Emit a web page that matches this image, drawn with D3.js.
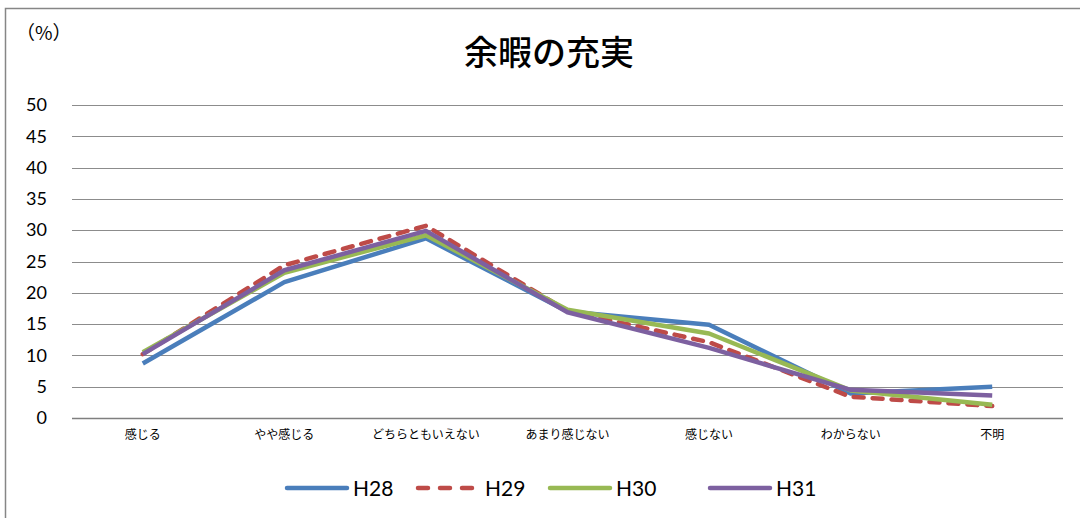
<!DOCTYPE html>
<html lang="ja">
<head>
    <title>余暇の充実</title>
    <meta charset="utf-8"/>
    <script src="https://d3js.org/d3.v7.min.js"></script>
    <style>
        body { margin: 0; background: #fff; }
        .tick line { display: none; }
        .domain { display: none; }
    </style>
</head>
<body>
<div id="viz">
    <svg width="1080" height="518"></svg>
</div>

<script type="text/javascript">

    // categorias del eje x
    const categorias = ["感じる", "やや感じる", "どちらともいえない", "あまり感じない", "感じない", "わからない", "不明"];
    const ticksY = [0, 5, 10, 15, 20, 25, 30, 35, 40, 45, 50];

    // series (%)
    const h28 = [8.7, 21.7, 28.7, 17.0, 14.9, 3.9, 5.0];
    const h29 = [10.2, 24.4, 30.7, 17.1, 12.1, 3.4, 1.9];
    const h30 = [10.5, 23.2, 29.2, 17.3, 13.5, 4.4, 2.1];
    const h31 = [10.2, 23.6, 29.9, 16.9, 11.2, 4.5, 3.6];
    const nombres = ["H28", "H29", "H30", "H31"];

    const colores = ["#4a7ebb", "#be4b48", "#98b954", "#7d60a0"];
    const series = [h28, h29, h30, h31].map((v, i) => ({nombre: nombres[i], valores: v, color: colores[i], dash: i === 1}));

    const fuenteNum = "Lato, 'Liberation Sans', sans-serif";
    const fuenteJp = "'Noto Sans CJK JP', sans-serif";

    const svg = d3.select("svg");

    // marco del grafico
    svg.append("rect")
        .attr("x", 5.5).attr("y", 8.5)
        .attr("width", 1100).attr("height", 540)
        .attr("fill", "none")
        .attr("stroke", "#868686")
        .attr("stroke-width", 1.5);

    // escalas
    let x = d3.scaleBand().domain(categorias).range([72, 1063]);
    let y = d3.scaleLinear().domain([0, 50]).range([418, 105]);

    // lineas de grilla
    svg.append("g")
        .selectAll("line")
        .data(ticksY).enter()
        .append("line")
        .attr("x1", 72).attr("x2", 1063)
        .attr("y1", d => Math.round(y(d)) + 0.5)
        .attr("y2", d => Math.round(y(d)) + 0.5)
        .attr("stroke", d => d === 0 ? "#7f7f7f" : "#8c8c8c")
        .attr("stroke-width", d => d === 0 ? 1.5 : 1.2);

    // eje y
    let ejeY = d3.axisLeft(y).tickValues(ticksY).tickSize(0).tickPadding(0);
    svg.append("g")
        .attr("transform", "translate(47,0)")
        .style("font-size", "18px")
        .style("font-family", fuenteNum)
        .call(ejeY)
        .selectAll("text").attr("fill", "#000");

    // eje x
    let ejeX = d3.axisBottom(x).tickSize(0).tickPadding(0);
    svg.append("g")
        .attr("transform", "translate(0,430)")
        .style("font-size", "12px")
        .style("font-family", fuenteJp)
        .call(ejeX)
        .selectAll("text").attr("fill", "#000");

    // titulo y unidad
    svg.append("text")
        .attr("x", 549).attr("y", 65)
        .attr("text-anchor", "middle")
        .style("font-family", fuenteJp)
        .style("font-size", "34px")
        .style("font-weight", "500")
        .text("余暇の充実");

    svg.append("text")
        .attr("x", 16).attr("y", 40)
        .style("font-family", fuenteJp)
        .style("font-size", "19px")
        .text("（%）");

    // lineas
    let linea = d3.line()
        .x((d, i) => x(categorias[i]) + x.bandwidth() / 2)
        .y(d => y(d));

    svg.append("g")
        .selectAll("path")
        .data(series).enter()
        .append("path")
        .attr("d", d => linea(d.valores))
        .attr("fill", "none")
        .attr("stroke", d => d.color)
        .attr("stroke-width", 4.5)
        .attr("stroke-linejoin", "round")
        .attr("stroke-linecap", d => d.dash ? "round" : "butt")
        .attr("stroke-dasharray", d => d.dash ? "10,9" : null);

    // leyenda
    const legX = [285, 416, 548, 708];
    let leyenda = svg.append("g")
        .selectAll("g")
        .data(series).enter()
        .append("g")
        .attr("transform", (d, i) => "translate(" + legX[i] + ",488)");

    leyenda.append("line")
        .attr("x1", 2).attr("x2", d => d.dash ? 56 : 62)
        .attr("y1", 0).attr("y2", 0)
        .attr("stroke", d => d.color)
        .attr("stroke-width", 4.5)
        .attr("stroke-linecap", "round")
        .attr("stroke-dasharray", d => d.dash ? "10,12" : null);

    leyenda.append("text")
        .attr("x", (d, i) => i === 1 ? 69 : 68)
        .attr("y", 8)
        .style("font-family", fuenteNum)
        .style("font-size", "21px")
        .text(d => d.nombre);

</script>
</body>
</html>
